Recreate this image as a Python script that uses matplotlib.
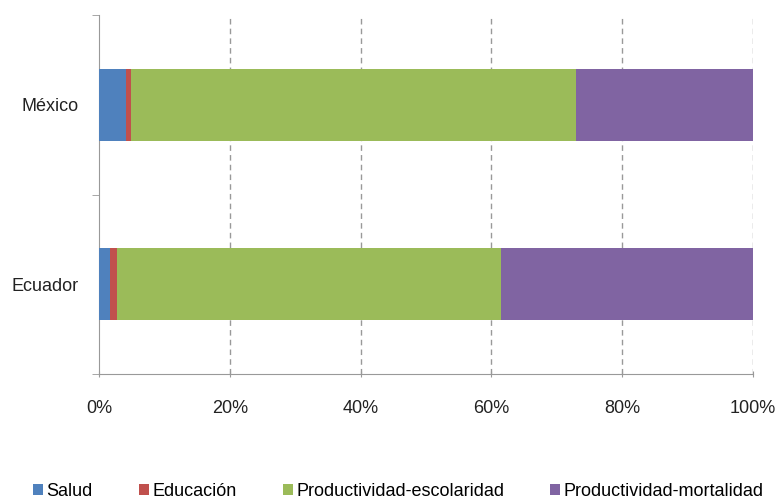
import matplotlib.pyplot as plt
import numpy as np

plt.rcParams['font.family'] = ['Liberation Sans', 'DejaVu Sans']

countries = ["México", "Ecuador"]
series = ["Salud", "Educación", "Productividad-escolaridad", "Productividad-mortalidad"]
salud = [4.2, 1.7]
educacion = [0.7, 1.0]
prod_escolaridad = [68.1, 58.8]
prod_mortalidad = [27.0, 38.5]
colors = ["#4F81BD", "#C0504D", "#9BBB59", "#8064A2"]

fig = plt.figure(figsize=(7.75, 4.99), dpi=100)
ax = fig.add_axes([99 / 775, 1 - 374 / 499, 654 / 775, 359 / 499])

y = np.arange(len(countries))[::-1]
left = np.zeros(len(countries))
for name, vals, c in zip(series, [salud, educacion, prod_escolaridad, prod_mortalidad], colors):
    ax.barh(y, vals, left=left, height=0.4, color=c, label=name, zorder=3)
    left += np.array(vals)

ax.set_xlim(0, 100)
ax.set_ylim(-0.5, 1.5)
ax.set_xticks(np.arange(0, 101, 20))
ax.set_xticklabels([f"{v}%" for v in range(0, 101, 20)], fontsize=13, color="#222222")
ax.set_yticks(y)
ax.set_yticklabels(countries, fontsize=13, color="#222222")
ax.set_yticks([-0.5, 0.5, 1.5], minor=True)
ax.tick_params(axis='y', which='major', length=0, pad=15)
ax.tick_params(axis='y', which='minor', length=5, color="#999999")
ax.tick_params(axis='x', length=5, color="#999999", direction='inout', pad=16)

for x in range(20, 101, 20):
    ax.axvline(x, color="#999999", linestyle=(0, (4, 3)), linewidth=1, zorder=1)

for s in ['top', 'right']:
    ax.spines[s].set_visible(False)
for s in ['left', 'bottom']:
    ax.spines[s].set_color("#999999")

fig.legend(loc='center left', bbox_to_anchor=(33 / 775, 1 - 491 / 499), ncol=4, frameon=False,
           fontsize=13, handlelength=0.55, handleheight=0.55, handletextpad=0.2,
           columnspacing=2.55, borderpad=0, borderaxespad=0)

fig.savefig("out.png", dpi=100)
